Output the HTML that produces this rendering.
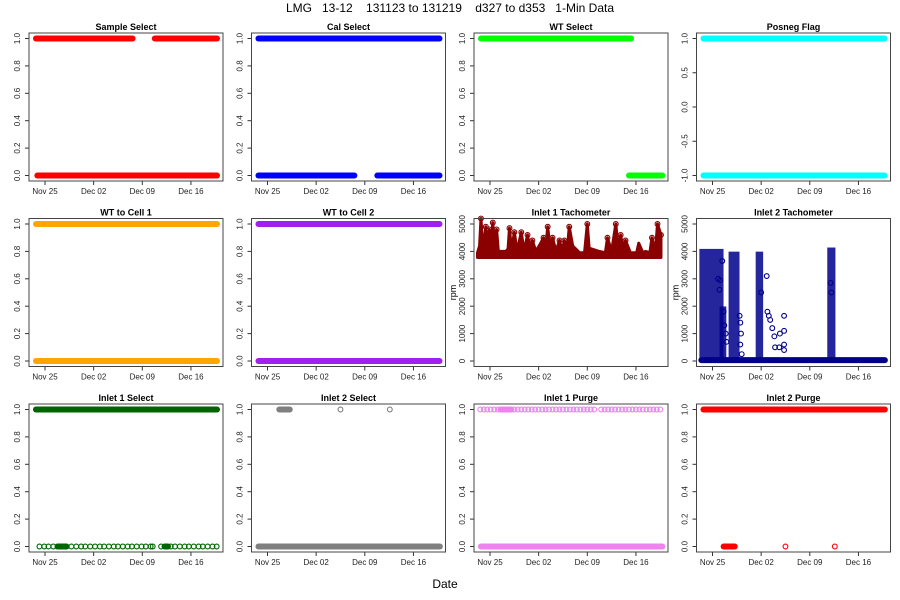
<!DOCTYPE html>
<html><head><meta charset="utf-8"><style>
html,body{margin:0;padding:0;background:#fff;}
svg{display:block;font-family:"Liberation Sans",sans-serif;}
</style></head><body>
<svg id="chart" width="900" height="600" viewBox="0 0 900 600" xmlns="http://www.w3.org/2000/svg">
<rect x="0" y="0" width="900" height="600" fill="#fff"/>
<text x="450" y="12" font-size="12" text-anchor="middle" xml:space="preserve">LMG   13-12    131123 to 131219    d327 to d353   1-Min Data</text>
<text x="445" y="588" font-size="12" text-anchor="middle">Date</text>
<g id="panels"></g>
</svg>
<script>
// x tick data (day of year)
const xTickDays = [329, 336, 343, 350];
const xTickLabels = ["Nov 25", "Dec 02", "Dec 09", "Dec 16"];
const binTicks = [0, 0.2, 0.4, 0.6, 0.8, 1];
const binTickLabels = ["0.0", "0.2", "0.4", "0.6", "0.8", "1.0"];
const pnTicks = [-1, -0.5, 0, 0.5, 1];
const pnTickLabels = ["-1.0", "-0.5", "0.0", "0.5", "1.0"];
const rpmTicks = [0, 1000, 2000, 3000, 4000, 5000];
const rpmTickLabels = ["0", "1000", "2000", "3000", "4000", "5000"];

// dense runs: [startDay, endDay, value]
const sampleSelectRuns = [[327.7, 341.6, 1], [344.8, 353.75, 1], [327.9, 353.75, 0]];
const calSelectRuns = [[327.7, 353.75, 1], [327.7, 341.5, 0], [344.8, 353.75, 0]];
const wtSelectRuns = [[327.7, 349.3, 1], [349.0, 353.8, 0]];
const posnegRuns = [[327.7, 353.75, 1], [327.7, 353.75, -1]];
const wtCell1Runs = [[327.7, 353.75, 1], [327.7, 353.75, 0]];
const wtCell2Runs = [[327.7, 353.75, 1], [327.7, 353.75, 0]];
const inlet1SelectRuns = [[327.7, 353.75, 1], [330.8, 332.1, 0], [346.2, 346.7, 0]];
const inlet1SelectPts = [[328.2,0],[328.9,0],[329.5,0],[330.2,0],[332.8,0],[333.5,0],[334.2,0],[334.8,0],[335.5,0],[336.2,0],[336.9,0],[337.5,0],[338.2,0],[338.9,0],[339.5,0],[340.2,0],[340.9,0],[341.5,0],[342.2,0],[342.9,0],[343.5,0],[344.2,0],[344.5,0],[345.7,0],[347.1,0],[347.7,0],[348.4,0],[349.1,0],[349.7,0],[350.4,0],[351.1,0],[351.7,0],[352.4,0],[353.1,0],[353.7,0]];
const inlet2SelectRuns = [[327.7, 353.8, 0], [330.7, 332.2, 1]];
const inlet2SelectPts = [[339.5, 1], [346.6, 1]];
const inlet1PurgeRuns = [[327.7, 353.8, 0], [330.5, 332.1, 1]];
const inlet1PurgePts = [[327.6,1],[328.1,1],[328.6,1],[329.1,1],[329.6,1],[330.1,1],[332.5,1],[333.0,1],[333.5,1],[334.0,1],[334.5,1],[335.0,1],[335.5,1],[336.0,1],[336.5,1],[337.0,1],[337.5,1],[338.0,1],[338.5,1],[339.0,1],[339.5,1],[340.0,1],[340.5,1],[341.0,1],[341.5,1],[342.0,1],[342.5,1],[343.0,1],[343.5,1],[344.0,1],[345.0,1],[345.5,1],[346.0,1],[346.5,1],[347.0,1],[347.5,1],[348.0,1],[348.5,1],[349.0,1],[349.5,1],[350.0,1],[350.5,1],[351.0,1],[351.5,1],[352.0,1],[352.5,1],[353.0,1],[353.5,1]];
const inlet2PurgeRuns = [[327.7, 353.8, 1], [330.6, 332.2, 0]];
const inlet2PurgePts = [[339.5, 0], [346.6, 0]];

// tachometer 1 envelope: [day, peak rpm]
const tach1Days = [327.2,327.5,327.7,328.0,328.4,328.6,328.9,329.1,329.4,329.7,329.95,330.2,331.3,331.6,331.8,332.1,332.5,332.9,333.5,333.9,334.4,334.8,335.1,335.6,336.3,336.7,337.0,337.3,337.7,338.0,338.5,339.0,339.4,339.7,340.1,340.4,340.9,341.9,342.6,343.0,343.3,343.5,344.7,345.6,345.9,346.5,347.1,347.5,347.8,348.2,348.5,349.2,350.1,350.4,351.0,351.4,352.0,352.3,352.8,353.1,353.6];
const tach1Peaks = [3950,4200,5200,4000,4900,4000,4800,4000,5050,4000,4800,4000,4000,4100,4850,4000,4700,4000,4700,4000,4600,4000,4400,4000,4300,4500,4000,4900,4000,4500,4000,4400,4000,4400,4000,4900,4200,3950,3950,5000,4000,4100,4000,3950,4500,4000,5000,4000,4600,4000,4400,3950,3950,4300,3950,4000,3950,4500,4000,5000,4600];
const tach1Base = 3850;
// tachometer 2: baseline run, dense blocks [start, end, max], sparse points
const tach2BaseRun = [327.4, 353.8, 30];
const tach2Blocks = [[327.4, 330.3, 4000], [330.3, 330.7, 1900], [331.6, 332.6, 3900], [335.5, 336.0, 3900], [345.8, 346.4, 4050]];
const tach2Pts = [[329.8,3000],[330.0,2600],[330.1,2950],[330.4,3650],[330.6,1800],[330.7,1300],[330.9,1000],[331.0,700],[332.9,1650],[333.0,1400],[333.1,1000],[333.0,600],[333.2,250],[336.0,2500],[336.8,3100],[336.9,1800],[337.1,1650],[337.3,1500],[337.6,1200],[337.9,900],[338.0,500],[338.6,500],[338.7,1000],[339.3,1650],[339.3,1100],[339.3,600],[339.3,400],[346.0,2850],[346.1,2500]];

const NS = "http://www.w3.org/2000/svg";
const root = document.getElementById('panels');
function mk(tag, attrs, parent) {
  const e = document.createElementNS(NS, tag);
  for (const k in attrs) e.setAttribute(k, attrs[k]);
  (parent || root).appendChild(e);
  return e;
}
const colLeft = [29, 251.5, 474, 696.5];
const rowTop = [33, 218.5, 404];
const W = 194, H = 148;

function panel(col, row, title, ylim, ticks, tickLabels, name, ylab) {
  const L = colLeft[col], T = rowTop[row];
  const g = mk('g', {});
  
  
  const xs = d => L + 16 + (d - 329) * 6.95;
  const ys = v => T + 5.5 + (ylim[1] - v) / (ylim[1] - ylim[0]) * 137;
  const t = mk('text', {x: L + W / 2, y: T - 3, 'font-size': 9, 'font-weight': 'bold', 'text-anchor': 'middle'}, g);
  t.textContent = title;
  
  
  xTickDays.forEach((d, i) => {
    const x = xs(d);
    mk('line', {x1: x, x2: x, y1: T + H, y2: T + H + 4, stroke: '#333', 'stroke-width': 1}, g);
    const lb = mk('text', {x: x, y: T + H + 13, 'font-size': 8, 'text-anchor': 'middle', fill: '#222'}, g);
    lb.textContent = xTickLabels[i];
    
    
  });
  ticks.forEach((v, i) => {
    const y = ys(v);
    mk('line', {x1: L - 4, x2: L, y1: y, y2: y, stroke: '#333', 'stroke-width': 1}, g);
    const lb = mk('text', {x: 0, y: 0, 'font-size': 8, 'text-anchor': 'middle', fill: '#222', transform: `translate(${L - 9},${y}) rotate(-90)`}, g);
    lb.textContent = tickLabels[i];
    
    
  });
  if (ylab) {
    const yl = mk('text', {x: 0, y: 0, 'font-size': 9, 'text-anchor': 'middle', transform: `translate(${L - 18},${T + H / 2}) rotate(-90)`}, g);
    yl.textContent = ylab;
    
    
  }
  return {g, xs, ys, L, T};
}
function frame(p, name) {
  const r = mk('rect', {x: p.L, y: p.T, width: W, height: H, fill: 'none', stroke: '#444', 'stroke-width': 1}, p.g);
  
  
}
function runs(p, arr, color) {
  arr.forEach(r => {
    const l = mk('line', {x1: p.xs(r[0]), x2: p.xs(r[1]), y1: p.ys(r[2]), y2: p.ys(r[2]), stroke: color, 'stroke-width': 6, 'stroke-linecap': 'round'}, p.g);
    
    
  });
}
function pts(p, arr, color) {
  arr.forEach(q => {
    const c = mk('circle', {cx: p.xs(q[0]), cy: p.ys(q[1]), r: 2.4, fill: 'none', stroke: color, 'stroke-width': 1.1}, p.g);
    
    
  });
}
function binPanel(col, row, title, name, color, r, s) {
  const p = panel(col, row, title, [0, 1], binTicks, binTickLabels, name);
  runs(p, r, color);
  if (s) pts(p, s, color);
  frame(p, name);
}
binPanel(0, 0, 'Sample Select', 'sample-select', '#FF0000', sampleSelectRuns);
binPanel(1, 0, 'Cal Select', 'cal-select', '#0000FF', calSelectRuns);
binPanel(2, 0, 'WT Select', 'wt-select', '#00FF00', wtSelectRuns);
{
  const p = panel(3, 0, 'Posneg Flag', [-1, 1], pnTicks, pnTickLabels, 'posneg-flag');
  runs(p, posnegRuns, '#00FFFF');
  frame(p, 'posneg-flag');
}
binPanel(0, 1, 'WT to Cell 1', 'wt-to-cell-1', '#FFA500', wtCell1Runs);
binPanel(1, 1, 'WT to Cell 2', 'wt-to-cell-2', '#A020F0', wtCell2Runs);
{
  const p = panel(2, 1, 'Inlet 1 Tachometer', [0, 5000], rpmTicks, rpmTickLabels, 'inlet-1-tachometer', 'rpm');
  let d = `M${p.xs(tach1Days[0])},${p.ys(tach1Base) + 2}`;
  tach1Days.forEach((day, i) => { d += ` L${p.xs(day)},${p.ys(tach1Peaks[i])}`; });
  d += ` L${p.xs(tach1Days[tach1Days.length - 1])},${p.ys(tach1Base) + 2} Z`;
  const a = mk('path', {d: d, fill: '#8B0000', stroke: '#8B0000', 'stroke-width': 3, 'stroke-linejoin': 'round'}, p.g);
  
  
  pts(p, tach1Days.map((day, i) => [day, tach1Peaks[i]]).filter(q => q[1] > 4300), '#8B0000');
  frame(p, 'inlet-1-tachometer');
}
{
  const p = panel(3, 1, 'Inlet 2 Tachometer', [0, 5000], rpmTicks, rpmTickLabels, 'inlet-2-tachometer', 'rpm');
  tach2Blocks.forEach(b => {
    const r = mk('rect', {x: p.xs(b[0]) - 2, y: p.ys(b[2]) - 2.5, width: p.xs(b[1]) - p.xs(b[0]) + 4, height: p.ys(0) - p.ys(b[2]) + 2.5, fill: '#00008B', 'fill-opacity': 0.85}, p.g);
    
    
  });
  runs(p, [tach2BaseRun], '#00008B');
  pts(p, tach2Pts, '#00008B');
  frame(p, 'inlet-2-tachometer');
}
binPanel(0, 2, 'Inlet 1 Select', 'inlet-1-select', '#006400', inlet1SelectRuns, inlet1SelectPts);
binPanel(1, 2, 'Inlet 2 Select', 'inlet-2-select', '#808080', inlet2SelectRuns, inlet2SelectPts);
binPanel(2, 2, 'Inlet 1 Purge', 'inlet-1-purge', '#EE82EE', inlet1PurgeRuns, inlet1PurgePts);
binPanel(3, 2, 'Inlet 2 Purge', 'inlet-2-purge', '#FF0000', inlet2PurgeRuns, inlet2PurgePts);
</script>
</body></html>
